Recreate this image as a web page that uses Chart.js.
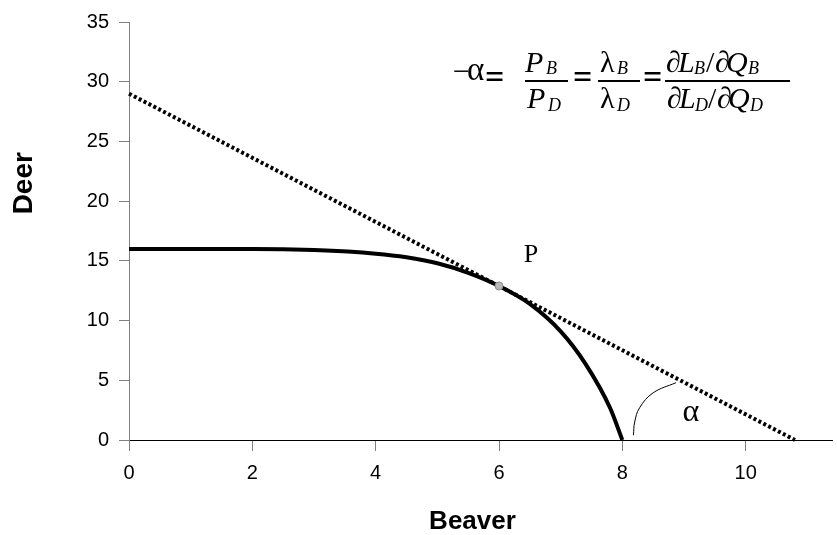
<!DOCTYPE html>
<html>
<head>
<meta charset="utf-8">
<script src="https://cdn.jsdelivr.net/npm/chart.js@4"></script>
<style>
  html, body { margin: 0; padding: 0; background: #fff; }
  #wrap { width: 837px; height: 535px; position: relative; }
</style>
</head>
<body>
<div id="wrap"><canvas id="myChart" width="837" height="535"></canvas></div>
<script>
/****************
--- DATA ---
*****************/

// tick labels
const xTicks = [0, 2, 4, 6, 8, 10];
const yTicks = [0, 5, 10, 15, 20, 25, 30, 35];

// production possibility frontier
const beaver = [0, 1, 2, 3, 4, 4.5, 5, 5.5, 6, 6.5, 7, 7.4, 7.8, 8];
const deer = [16, 16, 16, 15.9, 15.6, 15.3, 14.8, 14.0, 12.9, 11.4, 9.1, 6.4, 2.7, 0];

// price ratio line (dotted tangent)
const priceX = [0, 10.8];
const priceY = [29, 0];

// tangent point P
const pointP = [6, 12.9];

// little angle arc for alpha
const arcX = [8.18, 8.2, 8.28, 8.5, 8.87];
const arcY = [0.4, 1.5, 2.7, 3.95, 4.8];

// axis titles
const xTitle = "Beaver";
const yTitle = "Deer";

/*******************
  --- HELPERS ---
********************/

const SANS = '"Liberation Sans", Arial, sans-serif';
const SERIF = '"Liberation Serif", "Times New Roman", serif';

const toPoints = (xs, ys) => xs.map((v, i) => ({ x: v, y: ys[i] }));

// equation pieces: [text, font, left x, baseline y] on the canvas
const big = `30px ${SERIF}`;
const bigI = `italic 30px ${SERIF}`;
const eq = `bold 34px ${SERIF}`;
const sub = `italic 18px ${SERIF}`;
const eqPieces = [
  ["−", big, 453, 81], ["α", `33px ${SERIF}`, 467, 80],
  ["=", eq, 485, 88],
  ["P", bigI, 525, 72], ["B", sub, 546, 74],
  ["P", bigI, 527, 108], ["D", sub, 548, 111],
  ["=", eq, 573, 88],
  ["λ", big, 600, 72], ["B", sub, 617, 74],
  ["λ", big, 600, 108], ["D", sub, 617, 111],
  ["=", eq, 643, 88],
  ["∂", big, 666, 72], ["L", bigI, 678, 72], ["B", sub, 694, 74], ["/", big, 706, 72],
  ["∂", big, 715, 72], ["Q", bigI, 726, 72], ["B", sub, 748, 74],
  ["∂", big, 667, 108], ["L", bigI, 679, 108], ["D", sub, 695, 111], ["/", big, 708, 108],
  ["∂", big, 717, 108], ["Q", bigI, 728, 108], ["D", sub, 750, 111],
];
const eqBars = [[525, 568], [598, 640], [665, 790]];

const annotations = {
  id: "annotations",
  afterDatasetsDraw(chart) {
    const { ctx, scales: { x, y } } = chart;
    ctx.save();
    ctx.fillStyle = "#000";
    ctx.textAlign = "center";
    ctx.textBaseline = "middle";

    // axis titles
    ctx.font = `bold 26px ${SANS}`;
    ctx.fillText(xTitle, x.getPixelForValue(5.57), 522);
    ctx.save();
    ctx.translate(24, y.getPixelForValue(21.5));
    ctx.rotate(-Math.PI / 2);
    ctx.font = `bold 28px ${SANS}`;
    ctx.fillText(yTitle, 0, 0);
    ctx.restore();

    // labels in the plot
    ctx.font = `26px ${SERIF}`;
    ctx.fillText("P", x.getPixelForValue(6.52), y.getPixelForValue(15.5));
    ctx.font = `32px ${SERIF}`;
    ctx.fillText("α", x.getPixelForValue(9.11), y.getPixelForValue(2.3));

    // equation
    ctx.textAlign = "left";
    ctx.textBaseline = "alphabetic";
    eqPieces.forEach(([t, f, px, py]) => {
      ctx.font = f;
      ctx.fillText(t, px, py);
    });
    eqBars.forEach(([a, b]) => ctx.fillRect(a, 80, b - a, 2));
    ctx.restore();
  },
};

/*******************
  --- CHART ---
********************/

const ctx = document.getElementById("myChart").getContext("2d");
const myChart = new Chart(ctx, {
  type: "line",
  data: {
    datasets: [
      {
        data: [{ x: pointP[0], y: pointP[1] }],
        pointRadius: 4,
        pointBackgroundColor: "#b8b8b8",
        pointBorderColor: "#8c8c8c",
        pointBorderWidth: 1,
        showLine: false,
        clip: false,
      },
      {
        data: toPoints(beaver, deer),
        borderColor: "#000",
        borderWidth: 4,
        pointRadius: 0,
        cubicInterpolationMode: "monotone",
        clip: false,
      },
      {
        data: toPoints(priceX, priceY),
        borderColor: "#000",
        borderWidth: 4,
        borderDash: [3, 2.5],
        borderCapStyle: "butt",
        pointRadius: 0,
        clip: false,
      },
      {
        data: toPoints(arcX, arcY),
        borderColor: "#000",
        borderWidth: 1,
        tension: 0.4,
        pointRadius: 0,
      },
    ],
  },
  options: {
    responsive: false,
    animation: false,
    events: [],
    layout: { padding: { top: 16, right: 0, bottom: 0, left: 0 } },
    plugins: { legend: { display: false }, tooltip: { enabled: false } },
    scales: {
      x: {
        type: "linear",
        min: 0,
        max: 11.4,
        afterBuildTicks: (s) => { s.ticks = xTicks.map((v) => ({ value: v })); },
        afterFit: (s) => { s.height = 95; },
        grid: { drawOnChartArea: false, tickLength: 11, color: "#808080" },
        border: { color: "#000", width: 1 },
        ticks: { font: { family: SANS, size: 20 }, color: "#000", padding: 10, maxRotation: 0 },
      },
      y: {
        min: 0,
        max: 35,
        afterBuildTicks: (s) => { s.ticks = yTicks.map((v) => ({ value: v })); },
        afterFit: (s) => { s.width = 129; },
        grid: { drawOnChartArea: false, tickLength: 10, color: "#808080" },
        border: { color: "#808080", width: 1 },
        ticks: { font: { family: SANS, size: 20 }, color: "#000", padding: 10 },
      },
    },
  },
  plugins: [annotations],
});
</script>
</body>
</html>
